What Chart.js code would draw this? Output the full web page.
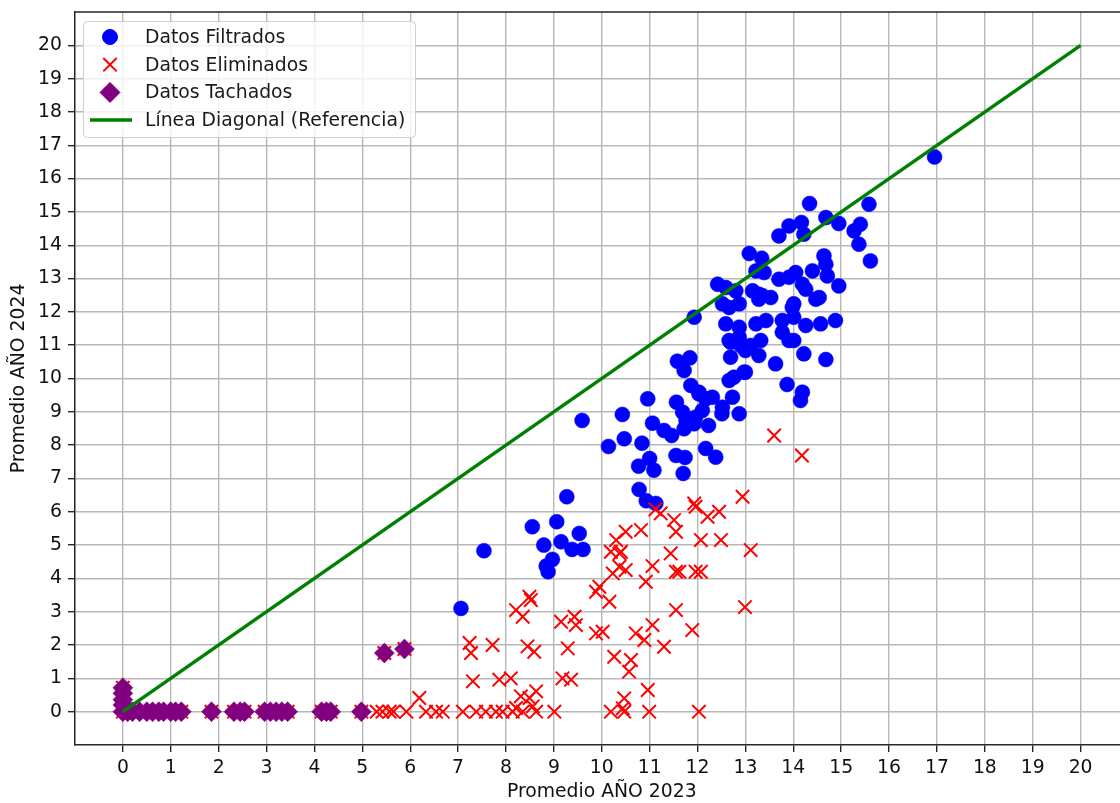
<!DOCTYPE html>
<html lang="es">
<head>
<meta charset="utf-8">
<title>Promedio AÑO 2023 vs AÑO 2024</title>
<script src="https://cdn.jsdelivr.net/npm/chart.js@4.4.1/dist/chart.umd.min.js"></script>
<style>
  html, body { margin: 0; padding: 0; background: #ffffff; overflow: hidden; }
  #wrap { width: 1140px; height: 803px; }
</style>
</head>
<body>
<div id="wrap"><canvas id="chart" width="1140" height="803"></canvas></div>
<script>
// Axis ticks (both axes run 0..20 in steps of 1)
const tickValues = [0,1,2,3,4,5,6,7,8,9,10,11,12,13,14,15,16,17,18,19,20];

// Datos Filtrados: promedio 2023, promedio 2024
const filtradosX = [
  7.06, 7.54, 8.55, 9.06, 9.27, 8.79, 9.15, 9.53, 9.38, 9.61, 8.97, 8.84, 8.88,
  9.59, 10.14, 10.43, 10.47, 10.84, 10.96, 11.0, 10.77, 11.09, 10.78, 10.93, 11.13,
  11.06, 11.3, 11.46, 11.56, 11.69, 11.76, 11.72, 11.55, 11.74, 11.7, 11.58, 11.84,
  11.72, 11.86, 12.03, 12.17, 12.1, 11.96, 11.93, 12.23, 12.17, 12.38, 12.51, 12.73,
  12.87, 12.66, 12.76, 13.0, 12.69, 12.66, 12.87, 13.0, 13.28, 13.63, 13.87, 14.19,
  14.15, 14.22, 13.91,
  14.34, 15.58, 14.68, 14.95, 15.4, 15.27, 15.37, 15.61, 14.17, 13.91, 14.22, 13.7,
  13.08, 13.34, 13.39, 13.22, 14.64, 14.68, 14.71, 14.95, 14.4, 14.05, 13.7, 13.91,
  14.19, 14.26, 12.42, 12.59, 12.8, 13.15, 13.35, 13.53, 12.52, 12.66, 12.87, 13.28,
  14.47, 14.54, 13.98, 11.93, 12.59, 12.87, 13.22, 13.43, 13.77, 14.01, 14.26, 14.57,
  14.88, 12.69, 12.9, 13.11, 13.32, 13.77, 14.01, 14.68, 12.97, 13.28, 14.01, 12.03,
  12.31, 12.52, 16.95
];
const filtradosY = [
  3.10, 4.83, 5.55, 5.70, 6.45, 5.0, 5.1, 5.35, 4.87, 4.87, 4.57, 4.37, 4.2,
  8.74, 7.96, 8.92, 8.19, 8.06, 9.39, 7.6, 7.37, 7.25, 6.67, 6.33, 6.25,
  8.66, 8.44, 8.29, 9.29, 8.99, 8.74, 8.49, 7.69, 7.63, 7.15, 10.52, 10.62,
  10.24, 9.79, 9.59, 9.39, 9.04, 8.84, 8.64, 8.59, 7.9, 7.64, 8.94, 9.44,
  8.94, 9.94, 10.04, 10.19, 10.64, 11.14, 11.24, 10.84, 10.69, 10.44, 9.82, 9.59,
  9.34, 10.74, 11.14,
  15.25, 15.23, 14.83, 14.65, 14.63, 14.43, 14.03, 13.53, 14.68, 14.58, 14.33, 14.28,
  13.75, 13.61, 13.18, 13.23, 13.68, 13.43, 13.08, 12.78, 13.23, 13.18, 12.98, 13.04,
  12.83, 12.68, 12.83, 12.73, 12.63, 12.63, 12.49, 12.43, 12.24, 12.13, 12.24, 12.38,
  12.38, 12.43, 12.13, 11.84, 11.64, 11.54, 11.64, 11.74, 11.74, 11.84, 11.59, 11.64,
  11.74, 11.09, 10.99, 10.99, 11.14, 11.39, 11.14, 10.57, 10.19, 12.53, 12.24, 9.54,
  9.44, 9.14, 16.65
];

// Datos Eliminados
const eliminadosX = [
  13.6, 14.18, 12.94, 13.11, 12.99,
  11.12, 11.23, 11.51, 11.55, 11.93, 11.96, 12.21, 12.45, 12.07, 12.49, 11.44, 11.55,
  11.62, 11.96, 12.07, 11.06, 10.92, 10.5, 10.82, 10.3, 10.19, 10.37, 10.37, 10.5,
  10.23, 9.95, 9.88, 10.16, 10.4,
  8.49, 8.52, 8.21, 8.35, 9.15, 9.43, 9.46, 9.88, 10.02, 10.71, 11.06, 10.89, 11.3,
  11.55, 11.89, 7.24, 7.27, 7.72, 8.45, 8.59, 9.29, 10.26, 10.61, 10.57,
  7.31, 7.86, 8.1, 9.18, 9.36, 10.96, 6.19, 8.31, 8.49, 8.56, 8.63, 8.21, 10.47, 10.44,
  5.3, 5.42, 5.57, 5.65, 5.92, 6.33, 6.54, 6.68, 7.1, 7.38, 7.58, 7.79, 7.93, 8.14,
  8.35, 8.63, 9.01, 10.19, 10.47, 10.99, 12.03
];
const eliminadosY = [
  8.29, 7.69, 6.45, 4.85, 3.14,
  6.07, 5.95, 5.75, 5.4, 6.25, 6.15, 5.85, 6.0, 5.15, 5.15, 4.75, 4.2,
  4.2, 4.2, 4.2, 4.37, 3.9, 5.4, 5.45, 5.15, 4.8, 4.75, 4.35, 4.25,
  4.15, 3.75, 3.6, 3.3, 4.8,
  3.45, 3.35, 3.05, 2.85, 2.7, 2.85, 2.6, 2.35, 2.4, 2.35, 2.6, 2.15, 1.95,
  3.05, 2.45, 2.06, 1.76, 2.0, 1.96, 1.8, 1.9, 1.65, 1.55, 1.2,
  0.91, 0.96, 1.0, 1.0, 0.96, 0.65, 0.41, 0.46, 0.41, 0.16, 0.61, 0.11, 0.4, 0.1,
  0, 0, 0, 0, 0, 0, 0, 0, 0, 0, 0, 0, 0, 0,
  0, 0, 0, 0, 0, 0, 0
];

// Datos Tachados (also part of the eliminated rows)
const tachadosX = [
  0, 0, 0, 0, 0, 0.1, 0.2, 0.35, 0.5, 0.62, 0.75, 0.85, 1.0, 1.1, 1.22, 1.85,
  2.32, 2.45, 2.54, 2.96, 3.08, 3.2, 3.32, 3.44, 4.15, 4.25, 4.34, 4.98, 5.46, 5.88
];
const tachadosY = [
  0.72, 0.55, 0.36, 0.2, 0, 0, 0, 0, 0, 0, 0, 0, 0, 0, 0, 0,
  0, 0, 0, 0, 0, 0, 0, 0, 0, 0, 0, 0, 1.76, 1.88
];

// Reference diagonal y = x
const diagonalX = [0, 20];
const diagonalY = [0, 20];

const toPoints = (xs, ys) => xs.map((x, i) => ({ x: x, y: ys[i] }));

const FONT = '"DejaVu Sans", "Liberation Sans", sans-serif';
const FONT_SIZE = 18.8;
Chart.defaults.font.family = FONT;
Chart.defaults.font.size = FONT_SIZE;
Chart.defaults.color = '#111111';

const legendItems = [
  { label: 'Datos Filtrados', style: 'circle', color: '#0000ff', radius: 7.5, lineWidth: 1 },
  { label: 'Datos Eliminados', style: 'crossRot', color: '#ff0000', radius: 9.5, lineWidth: 2 },
  { label: 'Datos Tachados', style: 'rectRot', color: '#800080', radius: 10, lineWidth: 1 },
  { label: 'Línea Diagonal (Referencia)', style: 'line', color: '#008000', lineWidth: 3.5 }
];

// Framed legend in the upper-left corner of the plot area
const legendBox = {
  id: 'legendBox',
  afterDraw(chart) {
    const ctx = chart.ctx;
    const area = chart.chartArea;
    const x0 = area.left + 8, y0 = area.top + 9, w = 332, h = 116;
    ctx.save();
    ctx.beginPath();
    ctx.roundRect(x0 + 0.5, y0 + 0.5, w, h, 4);
    ctx.fillStyle = 'rgba(255,255,255,0.8)';
    ctx.fill();
    ctx.strokeStyle = '#d0d0d0';
    ctx.lineWidth = 1;
    ctx.stroke();
    legendItems.forEach((item, i) => {
      const cy = y0 + 16 + i * 27.7;
      const cx = x0 + 27;
      if (item.style === 'line') {
        ctx.beginPath();
        ctx.moveTo(cx - 20, cy);
        ctx.lineTo(cx + 22, cy);
        ctx.strokeStyle = item.color;
        ctx.lineWidth = item.lineWidth;
        ctx.stroke();
      } else {
        ctx.fillStyle = item.color;
        ctx.strokeStyle = item.color;
        ctx.lineWidth = item.lineWidth;
        Chart.helpers.drawPoint(ctx, { pointStyle: item.style, radius: item.radius, rotation: 0, borderWidth: item.lineWidth }, cx, cy);
      }
      ctx.fillStyle = '#1a1a1a';
      ctx.font = FONT_SIZE + 'px ' + FONT;
      ctx.textAlign = 'left';
      ctx.textBaseline = 'middle';
      ctx.fillText(item.label, x0 + 62, cy + 1);
    });
    ctx.restore();
  }
};

// Top and right frame lines of the plot area
const frame = {
  id: 'frame',
  afterDatasetsDraw(chart) {
    const { ctx, chartArea: a } = chart;
    ctx.save();
    ctx.strokeStyle = '#262626';
    ctx.lineWidth = 1.5;
    ctx.beginPath();
    ctx.moveTo(a.left, a.top);
    ctx.lineTo(a.right, a.top);
    ctx.lineTo(a.right, a.bottom);
    ctx.stroke();
    ctx.restore();
  }
};

const fixedTicks = (scale) => { scale.ticks = tickValues.map(v => ({ value: v })); };

const gridOpts = {
  color: '#b8b8b8',
  lineWidth: 1.4,
  tickColor: '#262626',
  tickWidth: 1.4,
  tickLength: 7,
  drawTicks: true
};

new Chart(document.getElementById('chart'), {
  type: 'scatter',
  data: {
    datasets: [
      {
        label: 'Datos Filtrados',
        data: toPoints(filtradosX, filtradosY),
        pointStyle: 'circle',
        pointRadius: 7.5,
        pointBackgroundColor: '#0000ff',
        pointBorderColor: '#0000ff',
        pointBorderWidth: 0.5,
        order: 4
      },
      {
        label: 'Datos Eliminados',
        data: toPoints(eliminadosX.concat(tachadosX), eliminadosY.concat(tachadosY)),
        pointStyle: 'crossRot',
        pointRadius: 9.5,
        pointBorderColor: '#ff0000',
        pointBackgroundColor: '#ff0000',
        pointBorderWidth: 2,
        order: 3
      },
      {
        label: 'Datos Tachados',
        data: toPoints(tachadosX, tachadosY),
        pointStyle: 'rectRot',
        pointRadius: 10,
        pointBackgroundColor: '#800080',
        pointBorderColor: '#800080',
        pointBorderWidth: 0.5,
        order: 2
      },
      {
        type: 'line',
        label: 'Línea Diagonal (Referencia)',
        data: toPoints(diagonalX, diagonalY),
        showLine: true,
        borderColor: '#008000',
        borderWidth: 3.5,
        pointRadius: 0,
        fill: false,
        order: 1
      }
    ]
  },
  options: {
    responsive: false,
    animation: false,
    devicePixelRatio: 1,
    layout: { padding: { top: 12, right: 8, left: 0, bottom: 0 } },
    plugins: {
      legend: { display: false },
      tooltip: { enabled: false }
    },
    scales: {
      x: {
        type: 'linear',
        min: -1,
        max: 21,
        afterBuildTicks: fixedTicks,
        afterFit: (s) => { s.height = 58; s.paddingLeft = 0; s.paddingRight = 0; },
        grid: gridOpts,
        border: { display: true, color: '#262626', width: 1.5 },
        ticks: { color: '#111111', padding: 5, maxRotation: 0, autoSkip: false, font: { size: FONT_SIZE } },
        title: {
          display: true,
          text: 'Promedio AÑO 2023',
          color: '#111111',
          font: { size: FONT_SIZE, lineHeight: 1 },
          padding: { top: 0, bottom: 1 }
        }
      },
      y: {
        type: 'linear',
        min: -1,
        max: 21,
        afterBuildTicks: fixedTicks,
        afterFit: (s) => { s.width = 75; s.paddingTop = 0; s.paddingBottom = 0; },
        grid: gridOpts,
        border: { display: true, color: '#262626', width: 1.5 },
        ticks: { color: '#111111', padding: 6, autoSkip: false, font: { size: FONT_SIZE } },
        title: {
          display: true,
          text: 'Promedio AÑO 2024',
          color: '#111111',
          font: { size: FONT_SIZE, lineHeight: 1 },
          padding: { top: 10, bottom: 0 }
        }
      }
    }
  },
  plugins: [frame, legendBox]
});
</script>
</body>
</html>
